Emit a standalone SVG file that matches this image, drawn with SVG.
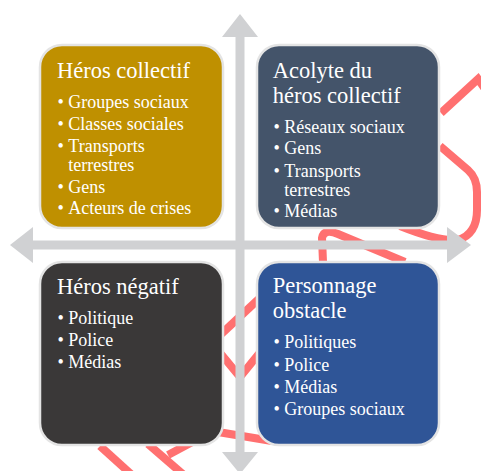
<svg xmlns="http://www.w3.org/2000/svg" width="481" height="471" viewBox="0 0 481 471">
<style>
.red{fill:none;stroke:#ff7070;stroke-width:8;stroke-linejoin:miter}
.axis{fill:#d0d1d3}
.box{stroke:#e4e4e4;stroke-width:2.5}
.t{font-family:"Liberation Serif","Times New Roman",serif;fill:#ffffff}
.h{font-size:22.5px}
.b{font-size:18px}
</style>
<rect width="481" height="471" fill="#ffffff"/>
<g id="watermark">
<path class="red" d="M441,113 L478,79 L490,96"/>
<path class="red" d="M440,146 L468,170 Q477,178 477,192 L477,210 Q477,234 458,240 Q440,242 400,226"/>
<path class="red" d="M323,262 L322,238 Q324,228 338,234 L405,262"/>
<path class="red" d="M262,296 L218,337"/>
<path class="red" d="M216,348 L240,377 L262,350"/>
<path class="red" d="M200,429 L272,441"/>
<path class="red" d="M100,446 L132,475"/>
<path class="red" d="M148,444 L185,476"/>
<path class="red" d="M168,455 L196,440"/>
</g>
<g id="axes">
<path class="axis" d="M10,245 L33,227 L33,240.5 L447,240.5 L447,227 L471,245 L447,263 L447,249.5 L33,249.5 L33,263 Z"/>
<path class="axis" d="M240,14 L258,37 L244.5,37 L244.5,452 L258,452 L240,474 L222,452 L235.5,452 L235.5,37 L222,37 Z"/>
</g>
<g id="heros-collectif">
<rect class="box" x="40" y="45" width="183" height="183" rx="22" fill="#bf9000"/>
<text class="t h" x="57" y="78.3">Héros collectif</text>
<text class="t b" x="57.5" y="108.3">•</text><text class="t b" x="68.3" y="108.3">Groupes sociaux</text>
<text class="t b" x="57.5" y="130">•</text><text class="t b" x="68.3" y="130">Classes sociales</text>
<text class="t b" x="57.5" y="151.7">•</text><text class="t b" x="68.3" y="151.7">Transports</text>
<text class="t b" x="68.3" y="170.7">terrestres</text>
<text class="t b" x="57.5" y="192.7">•</text><text class="t b" x="68.3" y="192.7">Gens</text>
<text class="t b" x="57.5" y="214.3">•</text><text class="t b" x="68.3" y="214.3">Acteurs de crises</text>
</g>
<g id="acolyte">
<rect class="box" x="257" y="45" width="182" height="183" rx="22" fill="#44546a"/>
<text class="t h" x="272.7" y="78.3">Acolyte du</text>
<text class="t h" x="272.7" y="102.7">héros collectif</text>
<text class="t b" x="273.5" y="132.7">•</text><text class="t b" x="284.3" y="132.7">Réseaux sociaux</text>
<text class="t b" x="273.5" y="154.3">•</text><text class="t b" x="284.3" y="154.3">Gens</text>
<text class="t b" x="273.5" y="176.7">•</text><text class="t b" x="284.3" y="176.7">Transports</text>
<text class="t b" x="284.3" y="195.7">terrestres</text>
<text class="t b" x="273.5" y="216.7">•</text><text class="t b" x="284.3" y="216.7">Médias</text>
</g>
<g id="heros-negatif">
<rect class="box" x="40" y="262" width="183" height="183" rx="22" fill="#3a3838"/>
<text class="t h" x="57" y="293.5">Héros négatif</text>
<text class="t b" x="57.5" y="324.3">•</text><text class="t b" x="68.3" y="324.3">Politique</text>
<text class="t b" x="57.5" y="346">•</text><text class="t b" x="68.3" y="346">Police</text>
<text class="t b" x="57.5" y="368.3">•</text><text class="t b" x="68.3" y="368.3">Médias</text>
</g>
<g id="personnage-obstacle">
<rect class="box" x="257" y="262" width="182" height="183" rx="22" fill="#2f5597"/>
<text class="t h" x="272.7" y="293.3">Personnage</text>
<text class="t h" x="272.7" y="317.7">obstacle</text>
<text class="t b" x="273.5" y="348.3">•</text><text class="t b" x="284.3" y="348.3">Politiques</text>
<text class="t b" x="273.5" y="371">•</text><text class="t b" x="284.3" y="371">Police</text>
<text class="t b" x="273.5" y="393.3">•</text><text class="t b" x="284.3" y="393.3">Médias</text>
<text class="t b" x="273.5" y="415">•</text><text class="t b" x="284.3" y="415">Groupes sociaux</text>
</g>
</svg>
